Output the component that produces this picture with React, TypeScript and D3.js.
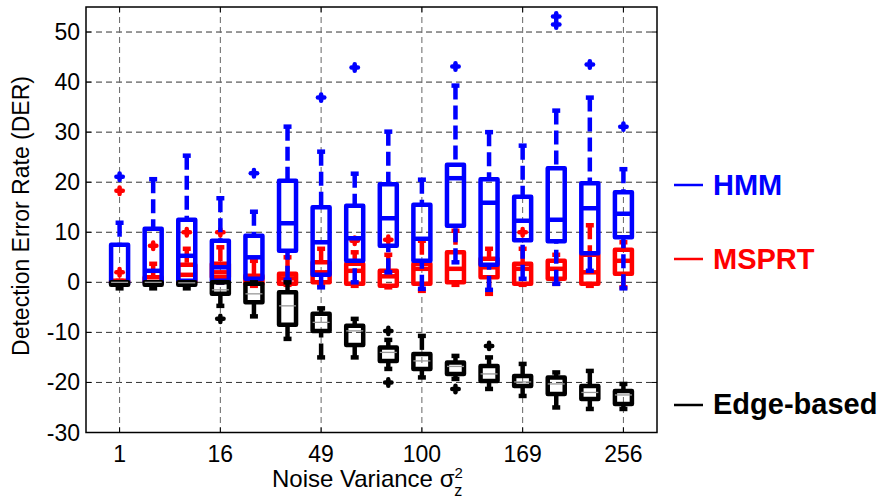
import React from "react";
import * as d3 from "d3";

// Noise variances (sigma_z^2), one box group per value
const categories = [1, 4, 9, 16, 25, 36, 49, 64, 81, 100, 121, 144, 169, 196, 225, 256];
const xTickValues = [1, 16, 49, 100, 169, 256];
const yTicks = [-30, -20, -10, 0, 10, 20, 30, 40, 50];

// Box statistics: [lowerWhisker, q1, median, q3, upperWhisker]
const hmmStats = [
  [-0.3, -0.3, 0, 7.5, 11.9],
  [0, 0, 2.3, 10.7, 20.6],
  [0, 0.3, 5.3, 12.5, 25.3],
  [0, 0.3, 3.0, 8.3, 16.8],
  [0, 0.7, 5.0, 9.3, 14.1],
  [0.5, 6.3, 11.8, 20.3, 31.1],
  [-1, 1.5, 8, 15, 26.1],
  [0, 4.3, 8.8, 15.3, 21.7],
  [2, 7.3, 12.8, 19.6, 30.1],
  [-1.3, 4.3, 8.7, 15.5, 20.5],
  [4, 11.3, 20.8, 23.5, 39.3],
  [-1.5, 3.5, 15.9, 20.6, 30],
  [0.7, 8.4, 12.3, 17.1, 27.3],
  [-0.3, 8.2, 12.5, 22.8, 34.3],
  [2.3, 5.8, 14.8, 19.8, 36.9],
  [-1.2, 9, 13.7, 18, 22.6],
];
const hmmOutliers = [
  [21.1], [], [], [], [21.8], [], [36.9], [42.9],
  [], [], [43.1], [], [], [51.5, 53.1], [43.5], [31.1],
];

const msprtStats = [
  [0, 0, 0, 0.3, 0.3],
  [0, 0, 0, 1, 3.7],
  [0, 0, 1.5, 3.5, 6.7],
  [0, 1, 2, 3.7, 7],
  [-0.7, -0.3, 0.5, 1.3, 4.3],
  [-0.5, -0.3, 0.8, 1.7, 5],
  [-0.5, 0, 2, 4, 6.7],
  [-0.7, -0.3, 2.3, 3.7, 6],
  [-1, -0.7, 1.2, 2.3, 5.5],
  [-1.7, -0.3, 2.7, 3.7, 8.3],
  [-0.5, 0, 2.7, 6, 10.3],
  [-2.3, 1, 3, 4.7, 6.7],
  [-0.5, -0.3, 2.7, 3.7, 6.7],
  [-0.3, 0.7, 2.7, 4.3, 5.5],
  [-0.7, -0.3, 2, 5.5, 11.4],
  [-1, 1.7, 4.3, 6.5, 8],
];
const msprtOutliers = [
  [2, 18.3], [7.3], [10], [10], [], [], [], [8.3],
  [8.5], [], [], [], [10], [], [], [],
];

const edgeStats = [
  [-1.2, -0.5, 0, 0, 0],
  [-1.2, -0.5, 0, 0, 0],
  [-1.2, -0.5, -0.1, 0, 0],
  [-4.7, -2.3, -1.5, 0, 0],
  [-6.8, -4, -2.3, -0.3, 0],
  [-11.3, -8.5, -4.7, -2, 0],
  [-15, -9.7, -8, -6.3, -5.2],
  [-15, -12.5, -9.7, -8.7, -7.3],
  [-17.3, -15.7, -14, -13, -11.5],
  [-19, -17.3, -15.7, -14.3, -10.7],
  [-19.3, -18.3, -16.8, -16, -14.7],
  [-21.3, -19.7, -18.3, -16.7, -15],
  [-22.7, -20.7, -19.9, -18.7, -16.3],
  [-25, -22.3, -20.3, -19, -18],
  [-25.3, -23.3, -22, -20.7, -17.7],
  [-25.3, -24.3, -22.5, -21.7, -20.3],
];
const edgeOutliers = [
  [], [], [], [-7.3], [], [], [], [],
  [-9.7, -20], [], [-21.3], [-12.7], [], [], [], [],
];

const seriesNames = ["MSPRT", "HMM", "Edge-based"];
const seriesColors = ["#ff0000", "#0000ff", "#000000"];

const W = 885;
const H = 499;
const left = 86, right = 657, top = 7, bottom = 432.5;
const FONT = "'Liberation Sans', Arial, Helvetica, sans-serif";

const x = d3.scaleLinear().domain([0, categories.length + 1]).range([left, right]);
const y = d3.scaleLinear().domain([-30, 55]).range([bottom, top]);

const BOX_HW = 8.5;
const CAP_HW = 4;
const SW = 4.5;

function BoxSeries({ stats, outliers, color, medianColor, medianWidth }: any) {
  return (
    <g>
      {stats.map((s: number[], i: number) => {
        const cx = x(i + 1);
        const [lo, q1, med, q3, hi] = s;
        const els: any[] = [];
        if (hi > q3)
          els.push(
            <line key="wh" x1={cx} x2={cx} y1={y(hi)} y2={y(q3)} stroke={color} strokeWidth={SW} strokeDasharray="14,6" />
          );
        if (lo < q1)
          els.push(
            <line key="wl" x1={cx} x2={cx} y1={y(lo)} y2={y(q1)} stroke={color} strokeWidth={SW} strokeDasharray="14,6" />
          );
        els.push(
          <line key="ch" x1={cx - CAP_HW} x2={cx + CAP_HW} y1={y(hi)} y2={y(hi)} stroke={color} strokeWidth={SW} />
        );
        els.push(
          <line key="cl" x1={cx - CAP_HW} x2={cx + CAP_HW} y1={y(lo)} y2={y(lo)} stroke={color} strokeWidth={SW} />
        );
        els.push(
          <rect key="box" x={cx - BOX_HW} y={y(q3)} width={BOX_HW * 2} height={Math.max(0.01, y(q1) - y(q3))}
            fill="none" stroke={color} strokeWidth={SW} strokeLinejoin="round" />
        );
        els.push(
          <line key="md" x1={cx - BOX_HW} x2={cx + BOX_HW} y1={y(med)} y2={y(med)} stroke={medianColor} strokeWidth={medianWidth} />
        );
        outliers[i].forEach((o: number, j: number) => {
          els.push(
            <g key={"o" + j} stroke={color} strokeWidth={4.5} strokeLinecap="round">
              <line x1={cx - 3.2} x2={cx + 3.2} y1={y(o)} y2={y(o)} />
              <line x1={cx} x2={cx} y1={y(o) - 3.2} y2={y(o) + 3.2} />
            </g>
          );
        });
        return <g key={i}>{els}</g>;
      })}
    </g>
  );
}

export default function App() {
  const xTickPos = xTickValues.map((v) => categories.indexOf(v) + 1);
  return (
    <svg width={W} height={H} style={{ position: "absolute", left: 0, top: 0, background: "#fff" }} fontFamily={FONT}>
      <rect x={0} y={0} width={W} height={H} fill="#fff" />
      {/* grid */}
      {yTicks.filter((t) => t > -30).map((t) => (
        <line key={"gy" + t} x1={left} x2={right} y1={y(t)} y2={y(t)} stroke="#333" strokeWidth={1} strokeDasharray="6,4" />
      ))}
      {xTickPos.map((p) => (
        <line key={"gx" + p} x1={x(p)} x2={x(p)} y1={top} y2={bottom} stroke="#666" strokeWidth={1} strokeDasharray="6,4" />
      ))}
      {/* boxes */}
      <BoxSeries stats={msprtStats} outliers={msprtOutliers} color={seriesColors[0]} medianColor={seriesColors[0]} medianWidth={SW} />
      <BoxSeries stats={hmmStats} outliers={hmmOutliers} color={seriesColors[1]} medianColor={seriesColors[1]} medianWidth={SW} />
      <BoxSeries stats={edgeStats} outliers={edgeOutliers} color={seriesColors[2]} medianColor="#999" medianWidth={1.3} />
      {/* frame */}
      <rect x={left} y={top} width={right - left} height={bottom - top} fill="none" stroke="#000" strokeWidth={1.5} />
      {/* ticks */}
      {yTicks.map((t) => (
        <g key={"ty" + t}>
          <line x1={left} x2={left + 5} y1={y(t)} y2={y(t)} stroke="#000" />
          <line x1={right} x2={right - 5} y1={y(t)} y2={y(t)} stroke="#000" />
          <text x={80} y={y(t) + 8} textAnchor="end" fontSize={23} fill="#000">{t}</text>
        </g>
      ))}
      {xTickPos.map((p, i) => (
        <g key={"tx" + p}>
          <line x1={x(p)} x2={x(p)} y1={bottom} y2={bottom - 5} stroke="#000" />
          <line x1={x(p)} x2={x(p)} y1={top} y2={top + 5} stroke="#000" />
          <text x={x(p)} y={462} textAnchor="middle" fontSize={23} fill="#000">{xTickValues[i]}</text>
        </g>
      ))}
      {/* axis labels */}
      <text transform="translate(29,216) rotate(-90)" textAnchor="middle" fontSize={23} fill="#000">
        Detection Error Rate (DER)
      </text>
      <text x={272} y={487} fontSize={24} fill="#000">
        Noise Variance σ
        <tspan dy={-9} fontSize={15}>2</tspan>
        <tspan dx={-8.5} dy={18} fontSize={16}>z</tspan>
      </text>
      {/* legend */}
      {[
        { name: seriesNames[1], color: seriesColors[1], ly: 185, ty: 195 },
        { name: seriesNames[0], color: seriesColors[0], ly: 259, ty: 268.5 },
        { name: seriesNames[2], color: seriesColors[2], ly: 405, ty: 413.5 },
      ].map((l) => (
        <g key={l.name}>
          <line x1={674} x2={703} y1={l.ly} y2={l.ly} stroke={l.color} strokeWidth={2.5} />
          <text x={713} y={l.ty} fontSize={29} fontWeight="bold" fill={l.color}>{l.name}</text>
        </g>
      ))}
    </svg>
  );
}
